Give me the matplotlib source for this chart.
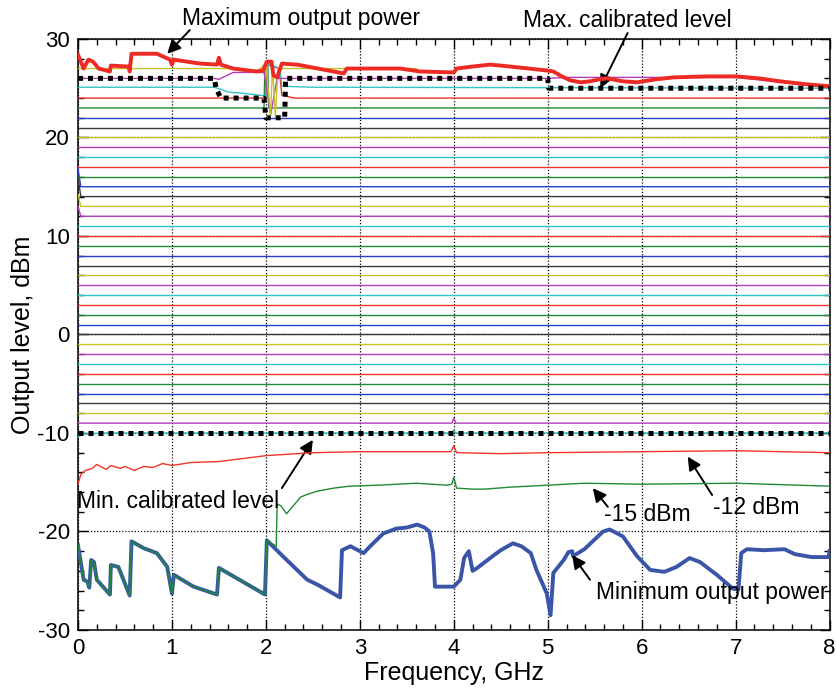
import numpy as np
import matplotlib
matplotlib.use("Agg")
import matplotlib.pyplot as plt
from matplotlib.ticker import MultipleLocator

plt.rcParams['font.family'] = ['Liberation Sans', 'DejaVu Sans']
plt.rcParams['axes.unicode_minus'] = False

# ---------------- data ----------------
f_span = [0.0, 8.0]
levels = list(range(-9, 28))          # flat output levels, dBm

# maximum output power (red thick)
max_f = [0, 0.06, 0.11, 0.16, 0.22, 0.34, 0.35, 0.54, 0.55, 0.57, 0.84, 0.98, 1.0, 1.02, 1.3,
         1.48, 1.5, 1.52, 1.65, 1.9, 1.97, 2.01, 2.06, 2.08, 2.12, 2.17, 2.33, 2.83, 2.86, 3.07,
         3.43, 3.64, 4.0, 4.03, 4.2, 4.39, 4.6, 4.8, 4.99, 5.06, 5.15, 5.24, 5.35, 5.45, 5.55,
         5.63, 5.8, 5.95, 6.15, 6.34, 6.7, 7.01, 7.25, 7.47, 7.75, 8.0]
max_p = [28.4, 27.0, 27.9, 27.7, 27.0, 26.7, 27.3, 27.2, 26.7, 28.5, 28.5, 27.9, 27.4, 27.9, 27.5,
         27.4, 28.1, 27.4, 27.0, 26.7, 26.8, 27.7, 27.7, 26.3, 26.1, 27.5, 27.4, 26.5, 27.0, 27.0,
         27.0, 26.7, 26.6, 27.0, 27.2, 27.4, 27.2, 27.0, 26.8, 26.7, 26.2, 25.8, 25.6, 25.7, 25.9,
         26.0, 25.7, 25.6, 25.9, 26.1, 26.2, 26.2, 26.0, 25.7, 25.4, 25.2]

# minimum output power (blue thick)
min_f = [0.0, 0.06, 0.1, 0.12, 0.14, 0.17, 0.2, 0.34, 0.35, 0.43, 0.55, 0.57, 0.70, 0.84, 0.95,
         1.0, 1.02, 1.23, 1.48, 1.50, 1.99, 2.01, 2.19, 2.44, 2.55, 2.79, 2.81, 2.90, 3.04, 3.11,
         3.25, 3.39, 3.5, 3.61, 3.69, 3.74, 3.78, 3.80, 4.0, 4.07, 4.11, 4.16, 4.20, 4.25, 4.4,
         4.5, 4.63, 4.72, 4.82, 4.88, 4.99, 5.03, 5.06, 5.17, 5.22, 5.26, 5.27, 5.39, 5.59, 5.66,
         5.80, 5.95, 6.09, 6.24, 6.37, 6.51, 6.62, 6.80, 6.97, 7.03, 7.06, 7.12, 7.3, 7.52, 7.63,
         7.81, 7.99, 8.0]
min_p = [-21.4, -24.9, -25.1, -25.7, -22.9, -23.1, -24.9, -26.4, -23.4, -23.6, -26.5, -21.0, -21.7,
         -22.2, -23.6, -26.3, -24.4, -25.6, -26.4, -23.7, -26.4, -20.9, -22.6, -24.9, -25.4, -26.7,
         -21.9, -21.5, -22.2, -21.5, -20.2, -19.7, -19.6, -19.3, -19.6, -20.0, -22.2, -25.6, -25.6,
         -24.9, -22.7, -22.0, -24.0, -23.7, -22.6, -21.9, -21.2, -21.5, -22.2, -23.9, -26.3, -28.5,
         -24.2, -22.9, -22.1, -22.0, -22.5, -21.8, -20.0, -19.8, -20.5, -22.5, -23.9, -24.1, -23.6,
         -22.7, -23.1, -24.4, -25.8, -25.9, -22.2, -21.8, -21.9, -21.8, -22.3, -22.6, -22.6, -22.0]

# -12 dBm setting (red thin)
l12_f = [0, 0.03, 0.08, 0.15, 0.2, 0.3, 0.35, 0.45, 0.5, 0.6, 0.7, 0.8, 0.9, 1.0, 1.2, 1.5, 1.75,
         2.0, 2.5, 3.0, 3.5, 3.97, 4.0, 4.03, 4.5, 5.0, 6.0, 7.0, 8.0]
l12_p = [-15.2, -14.2, -13.8, -13.6, -13.2, -13.7, -13.3, -13.6, -13.4, -13.8, -13.4, -13.5, -13.1,
         -13.3, -13.0, -12.9, -12.6, -12.3, -12.0, -11.9, -11.9, -11.9, -11.3, -12.0, -12.1, -12.0,
         -11.9, -11.8, -12.0]

# -15 dBm setting (green thin): follows minimum power below 2.1 GHz, then these points
l15_f = [2.11, 2.12, 2.16, 2.22, 2.3, 2.37, 2.45, 2.55, 2.72, 2.89, 3.2, 3.6, 3.93, 3.98, 4.0, 4.03,
         4.2, 4.33, 4.6, 4.8, 5.0, 5.39, 6.0, 7.0, 8.0]
l15_p = [-21.5, -17.2, -17.4, -18.2, -17.3, -16.5, -16.2, -15.9, -15.6, -15.4, -15.3, -15.1, -15.3,
         -15.2, -14.5, -15.6, -15.7, -15.7, -15.5, -15.4, -15.3, -15.1, -15.2, -15.1, -15.4]

# -10 dBm setting (cyan thin)
l10_f = [0, 0.05, 0.3, 3.98, 4.0, 4.02, 8.0]
l10_p = [-10.4, -10.1, -10.0, -10.0, -9.7, -10.0, -10.0]

# level lines that deviate from flat
special = {
    -9: ([0, 3.98, 4.0, 4.02, 8.0], [-9, -9, -8.5, -9, -9]),
    12: ([0, 0.03, 8.0], [13.0, 12.0, 12.0]),
    13: ([0, 0.03, 8.0], [14.2, 13.0, 13.0]),
    14: ([0, 0.03, 8.0], [16.0, 14.0, 14.0]),
    15: ([0, 0.03, 8.0], [16.8, 15.0, 15.0]),
    23: ([0, 1.98, 1.99, 2.02, 2.03, 2.17, 8.0], [23, 23, 27.5, 27.5, 23.0, 23.0, 23.0]),
    24: ([0, 2.0, 2.01, 2.14, 2.17, 2.3, 8.0], [24, 24, 27.4, 27.0, 24.3, 24.0, 24.0]),
    25: ([0, 1.45, 1.52, 1.6, 1.75, 2.01, 2.02, 2.15, 2.17, 2.5, 8.0],
         [25.1, 25.1, 24.9, 24.6, 24.5, 24.2, 27.5, 27.0, 25.2, 25.1, 25.0]),
    26: ([0, 1.45, 1.5, 1.65, 1.98, 2.05, 2.12, 2.2, 5.0, 5.2, 6.4, 7.0, 7.5, 8.0],
         [26, 26, 25.9, 26.6, 26.6, 22.3, 26.0, 26.0, 26.0, 26.1, 26.1, 26.1, 25.6, 25.1]),
    27: ([0, 1.64, 1.9, 2.0, 2.05, 2.07, 2.1, 2.13, 2.17, 3.6],
         [27, 27, 26.7, 27.5, 22.2, 27.3, 22.2, 27.0, 27.0, 27.0]),
}

# calibrated level limits (black dotted)
maxcal_f = [0, 1.45, 1.47, 1.52, 1.98, 2.0, 2.2, 2.21, 5.0, 5.01, 8.0]
maxcal_p = [26, 26, 25, 24, 24, 22, 22, 26, 26, 25, 25]
mincal_f = [0, 8]
mincal_p = [-10, -10]

color_order = ['#2a3fc8', '#1f8a35', '#f0342a', '#30c4c8', '#b53ab8', '#c4c42a', '#3a3a3a']

# ---------------- figure ----------------
fig = plt.figure(figsize=(8.36, 6.91), dpi=100)
ax = fig.add_axes([0.0933, 0.0883, 0.899, 0.8553])

lw_thin = 1.0

# minimum output power (thick blue), plotted first
ax.plot(min_f, min_p, color='#3a55a8', lw=2.8, zorder=3, solid_joinstyle='round')

# -15 dBm line
mf = np.array(min_f)
mp = np.array(min_p)
g_f = list(mf[mf < 2.1]) + l15_f
g_p = list(mp[mf < 2.1]) + l15_p
ax.plot(g_f, g_p, color=color_order[1], lw=lw_thin, zorder=4)
ax.plot(l12_f, l12_p, color=color_order[2], lw=lw_thin, zorder=4)
ax.plot(l10_f, l10_p, color=color_order[3], lw=lw_thin, zorder=4)

for i, lev in enumerate(levels):
    col = color_order[(i + 4) % 7]
    if lev in special:
        xs, ys = special[lev]
    else:
        xs, ys = f_span, [lev, lev]
    ax.plot(xs, ys, color=col, lw=lw_thin, zorder=4)

# maximum output power (thick red)
ax.plot(max_f, max_p, color='#ee2a24', lw=2.8, zorder=5, solid_joinstyle='round')

# calibrated limits
for xs, ys in [(maxcal_f, maxcal_p), (mincal_f, mincal_p)]:
    ax.plot(xs, ys, color='black', lw=3.6, dashes=(1.0, 1.0), dash_capstyle='butt',
            solid_joinstyle='miter', zorder=6)

# axes styling
ax.set_xlim(0, 8)
ax.set_ylim(-30, 30)
ax.xaxis.set_major_locator(MultipleLocator(1))
ax.xaxis.set_minor_locator(MultipleLocator(0.2))
ax.yaxis.set_major_locator(MultipleLocator(10))
ax.yaxis.set_minor_locator(MultipleLocator(2))
ax.tick_params(which='both', direction='in', top=True, right=True, labelsize=16, width=1.0,
               colors='black')
ax.tick_params(which='major', length=7, pad=6)
ax.tick_params(which='minor', length=4)
ax.grid(True, which='major', color='black', linestyle=(0, (1, 1.5)), lw=0.9)
for s in ax.spines.values():
    s.set_linewidth(1.1)
ax.set_xlabel('Frequency, GHz', fontsize=18, labelpad=1)
ax.set_ylabel('Output level, dBm', fontsize=18, labelpad=2)

# annotations
ap = dict(arrowstyle='-|>', color='black', lw=1.4, mutation_scale=20, shrinkA=0, shrinkB=0)
fs = 16.5
ax.annotate('', xy=(0.95, 28.5), xytext=(1.19, 30.9), arrowprops=ap, annotation_clip=False)
ax.text(2.37, 32.1, 'Maximum output power', fontsize=fs, ha='center', va='center', clip_on=False)
ax.annotate('', xy=(5.56, 25.0), xytext=(5.85, 30.6), arrowprops=ap, annotation_clip=False)
ax.text(5.85, 31.9, 'Max. calibrated level', fontsize=fs, ha='center', va='center', clip_on=False)
ax.annotate('', xy=(2.5, -10.7), xytext=(2.17, -15.6), arrowprops=ap)
ax.text(1.07, -17.0, 'Min. calibrated level', fontsize=fs, ha='center', va='center', zorder=7)
ax.annotate('', xy=(5.48, -15.6), xytext=(5.64, -17.5), arrowprops=ap)
ax.text(6.06, -18.3, '-15 dBm', fontsize=fs, ha='center', va='center', zorder=7)
ax.annotate('', xy=(6.49, -12.4), xytext=(6.75, -16.3), arrowprops=ap)
ax.text(7.22, -17.6, '-12 dBm', fontsize=fs, ha='center', va='center', zorder=7)
ax.annotate('', xy=(5.26, -22.4), xytext=(5.45, -24.9), arrowprops=ap)
ax.text(6.75, -26.2, 'Minimum output power', fontsize=fs, ha='center', va='center', zorder=7)

fig.savefig('out.png', dpi=100)
